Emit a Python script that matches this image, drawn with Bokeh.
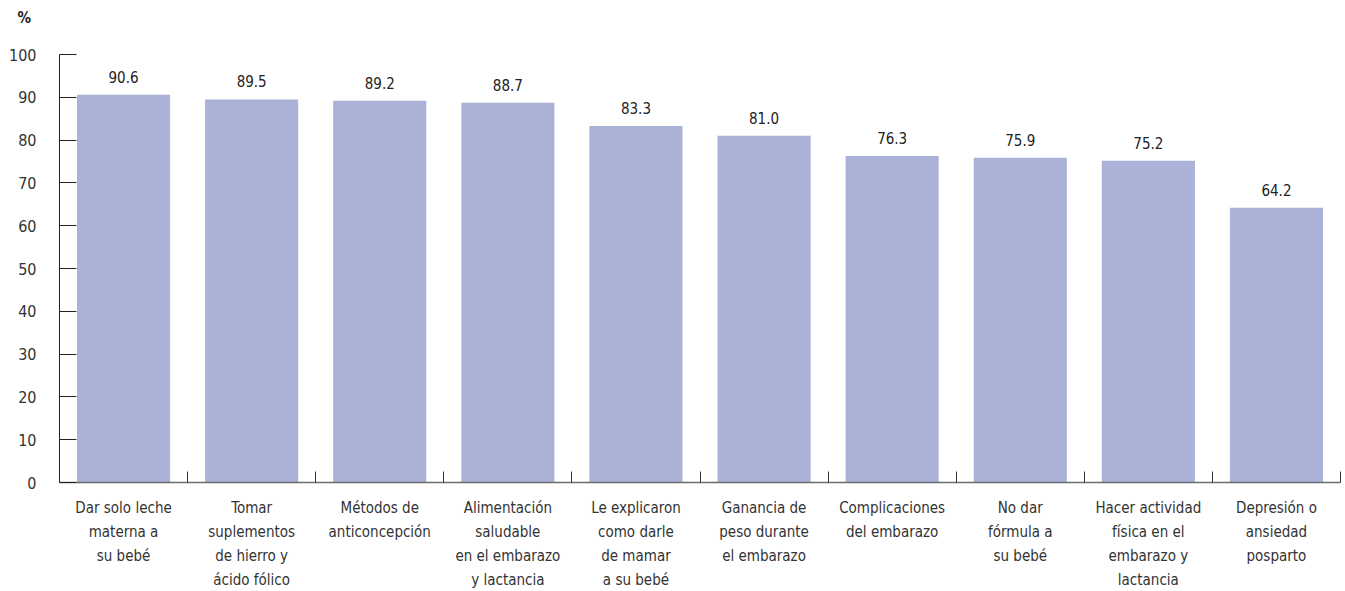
from bokeh.plotting import figure
from bokeh.models import Range1d, FixedTicker, ColumnDataSource
from bokeh.embed import file_html
from bokeh.resources import INLINE
from bokeh.core.properties import value

categories = [
    "Dar solo leche\nmaterna a\nsu bebé",
    "Tomar\nsuplementos\nde hierro y\nácido fólico",
    "Métodos de\nanticoncepción",
    "Alimentación\nsaludable\nen el embarazo\ny lactancia",
    "Le explicaron\ncomo darle\nde mamar\na su bebé",
    "Ganancia de\npeso durante\nel embarazo",
    "Complicaciones\ndel embarazo",
    "No dar\nfórmula a\nsu bebé",
    "Hacer actividad\nfísica en el\nembarazo y\nlactancia",
    "Depresión o\nansiedad\nposparto",
]
values = [90.6, 89.5, 89.2, 88.7, 83.3, 81.0, 76.3, 75.9, 75.2, 64.2]
y_ticks = [0, 10, 20, 30, 40, 50, 60, 70, 80, 90, 100]

FONT = "DejaVu Sans Condensed"
BAR = "#aab2d8"

idx = list(range(len(categories)))
src = ColumnDataSource(dict(x=idx, top=values, lab=[f"{v:.1f}" for v in values]))

p = figure(width=1343, height=591, output_backend="svg", toolbar_location=None,
           x_range=Range1d(-0.5, len(categories) - 0.5), y_range=Range1d(0, 100),
           min_border_left=59, min_border_right=3, min_border_top=54, min_border_bottom=108,
           title="%\n ")
p.outline_line_color = None
p.grid.grid_line_color = None
p.background_fill_color = "white"

p.title.align = "left"
p.title.offset = -42
p.title.standoff = 12
p.title.text_font = FONT
p.title.text_font_size = "15px"
p.title.text_font_style = "bold"
p.title.text_color = "#222222"
p.title.text_line_height = 1.2

p.vbar(x="x", top="top", width=0.727, bottom=0, source=src, color=BAR, line_color=None)
p.text(x="x", y="top", text="lab", source=src, text_align="center", text_baseline="bottom",
       y_offset=-12, text_font=value(FONT), text_font_size="15px", text_color="#222222")

xa = p.xaxis[0]
xa.ticker = FixedTicker(ticks=idx, minor_ticks=[i + 0.5 for i in idx])
xa.major_label_overrides = {i: c for i, c in zip(idx, categories)}
xa.major_tick_line_color = None
xa.major_tick_in = 0
xa.major_tick_out = 0
xa.minor_tick_in = 11
xa.minor_tick_out = 0
xa.minor_tick_line_color = "#333333"
xa.minor_tick_line_width = 1
xa.axis_line_color = "#6b6b6b"
xa.axis_line_width = 1.5
xa.major_label_text_font = FONT
xa.major_label_text_font_size = "15px"
xa.major_label_text_color = "#333333"
xa.major_label_text_line_height = 1.34
xa.major_label_standoff = 16

ya = p.yaxis[0]
ya.ticker = FixedTicker(ticks=y_ticks, minor_ticks=[])
ya.major_tick_in = 17
ya.major_tick_out = 0
ya.major_tick_line_color = "#222222"
ya.axis_line_color = "#222222"
ya.major_label_text_font = FONT
ya.major_label_text_font_size = "16px"
ya.major_label_text_color = "#333333"
ya.major_label_standoff = 23
ya.minor_tick_line_color = None

open("out.html", "w").write(file_html(p, INLINE))
